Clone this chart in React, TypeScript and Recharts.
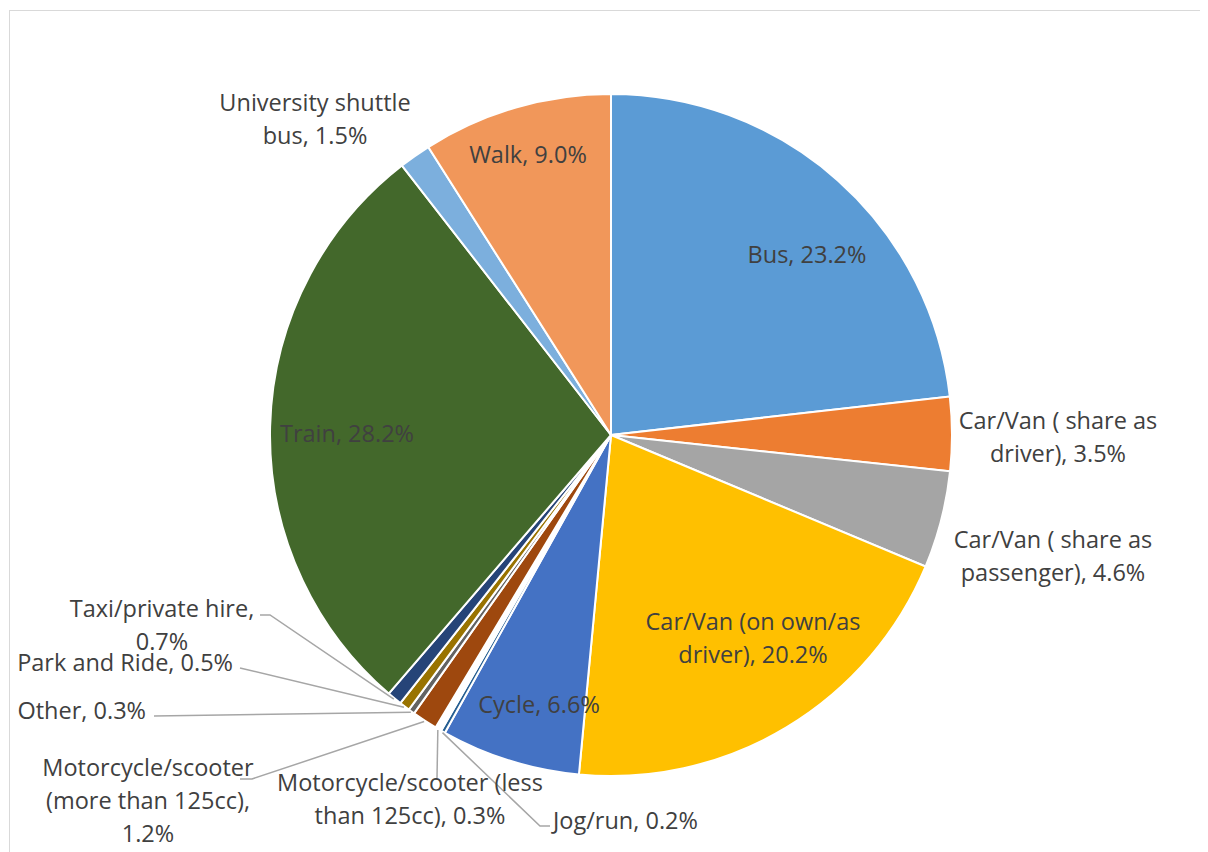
import { PieChart, Pie, Cell } from "recharts";

const categories = [
  "Bus",
  "Car/Van ( share as driver)",
  "Car/Van ( share as passenger)",
  "Car/Van (on own/as driver)",
  "Cycle",
  "Jog/run",
  "Motorcycle/scooter (less than 125cc)",
  "Motorcycle/scooter (more than 125cc)",
  "Other",
  "Park and Ride",
  "Taxi/private hire",
  "Train",
  "University shuttle bus",
  "Walk",
];

const shares = [23.2, 3.5, 4.6, 20.2, 6.6, 0.2, 0.3, 1.2, 0.3, 0.5, 0.7, 28.2, 1.5, 9.0];

const colors = [
  "#5B9BD5", "#ED7D31", "#A5A5A5", "#FFC000", "#4472C4", "#255E91", "#FFFFFF",
  "#9E480E", "#636363", "#997300", "#264478", "#43682B", "#7CAFDD", "#F1975A",
];

// label text split into lines like Excel wraps them
const labelLines = [
  ["Bus, 23.2%"],
  ["Car/Van ( share as", "driver), 3.5%"],
  ["Car/Van ( share as", "passenger), 4.6%"],
  ["Car/Van (on own/as", "driver), 20.2%"],
  ["Cycle, 6.6%"],
  ["Jog/run, 0.2%"],
  ["Motorcycle/scooter (less", "than 125cc), 0.3%"],
  ["Motorcycle/scooter", "(more than 125cc),", "1.2%"],
  ["Other, 0.3%"],
  ["Park and Ride, 0.5%"],
  ["Taxi/private hire,", "0.7%"],
  ["Train, 28.2%"],
  ["University shuttle", "bus, 1.5%"],
  ["Walk, 9.0%"],
];

const data = categories.map((name, i) => ({ name, value: shares[i] }));

// label layout, offsets from the pie centre; leader = polyline end points
type Layout = { x: number; y: number; anchor: string; leader?: number[][] };
const layout: Layout[] = [
  { x: 196, y: -181, anchor: "middle" },
  { x: 447, y: 1, anchor: "middle" },
  { x: 442, y: 120, anchor: "middle" },
  { x: 142, y: 202, anchor: "middle" },
  { x: -72, y: 269, anchor: "middle" },
  { x: -58, y: 385, anchor: "start", leader: [[-71, 391], [-61, 391]] },
  { x: -201, y: 363, anchor: "middle", leader: [[-174, 343]] },
  { x: -463, y: 365, anchor: "middle", leader: [[-359, 344], [-371, 344]] },
  { x: -465, y: 275, anchor: "end", leader: [[-457, 281]] },
  { x: -378, y: 227, anchor: "end", leader: [[-371, 233]] },
  { x: -449, y: 189, anchor: "middle", leader: [[-341, 180], [-351, 180]] },
  { x: -264, y: -2, anchor: "middle" },
  { x: -296, y: -317, anchor: "middle" },
  { x: -83, y: -281, anchor: "middle" },
];

const RAD = Math.PI / 180;
const LINE_H = 33;

const renderLabel = (props: any) => {
  const { cx, cy, midAngle, outerRadius, index } = props;
  const l = layout[index];
  const lines = labelLines[index];
  const x = cx + l.x;
  const y0 = cy + l.y - ((lines.length - 1) * LINE_H) / 2;
  let leader = null;
  if (l.leader) {
    const sx = cx + (outerRadius + 1) * Math.cos(-midAngle * RAD);
    const sy = cy + (outerRadius + 1) * Math.sin(-midAngle * RAD);
    const pts = [[sx, sy], ...l.leader.map(([px, py]) => [cx + px, cy + py])]
      .map((p) => p.join(","))
      .join(" ");
    leader = <polyline points={pts} fill="none" stroke="#A6A6A6" strokeWidth={1.5} />;
  }
  return (
    <g key={`lbl-${index}`}>
      {leader}
      <text
        x={x}
        y={y0}
        textAnchor={l.anchor}
        dominantBaseline="central"
        fill="#404040"
        fontSize={23.5}
        fontFamily="'Open Sans', sans-serif"
      >
        {lines.map((t, j) => (
          <tspan key={j} x={x} y={y0 + j * LINE_H}>
            {t}
          </tspan>
        ))}
      </text>
    </g>
  );
};

export default function App() {
  return (
    <div style={{ position: "relative", width: 1200, height: 844, overflow: "hidden", background: "#fff" }}>
      <div
        style={{
          position: "absolute",
          left: 1,
          top: 2,
          width: 1400,
          height: 1000,
          border: "1.5px solid #D9D9D9",
        }}
      />
      <div style={{ position: "absolute", left: 0, top: 0 }}>
        <PieChart width={1200} height={844}>
          <Pie
            data={data}
            dataKey="value"
            nameKey="name"
            cx={598}
            cy={422}
            outerRadius={341}
            startAngle={90}
            endAngle={-270}
            stroke="#FFFFFF"
            strokeWidth={2}
            label={renderLabel}
            labelLine={false}
            isAnimationActive={false}
          >
            {data.map((d, i) => (
              <Cell key={d.name} fill={colors[i]} />
            ))}
          </Pie>
        </PieChart>
      </div>
    </div>
  );
}
